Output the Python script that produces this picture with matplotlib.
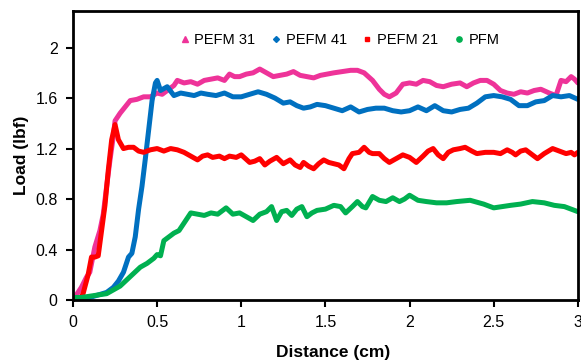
import matplotlib
matplotlib.use('Agg')
import matplotlib.pyplot as plt
from matplotlib.lines import Line2D

plt.rcParams['font.family'] = ['Liberation Sans', 'DejaVu Sans']

# PEFM 31 (pink)
x31 = [0, 0.02, 0.05, 0.08, 0.1, 0.13, 0.16, 0.18, 0.2, 0.22, 0.24, 0.25, 0.28, 0.31, 0.34, 0.38,
       0.42, 0.46, 0.5, 0.53, 0.56, 0.6, 0.62, 0.66, 0.7, 0.74, 0.78, 0.82, 0.86, 0.9, 0.93, 0.96,
       0.99, 1.03, 1.07, 1.11, 1.15, 1.19, 1.23, 1.27, 1.31, 1.35, 1.39, 1.43, 1.47, 1.51, 1.55, 1.6,
       1.65, 1.69, 1.73, 1.78, 1.82, 1.85, 1.88, 1.92, 1.96, 2.0, 2.04, 2.08, 2.12, 2.16, 2.2, 2.25,
       2.3, 2.34, 2.38, 2.42, 2.46, 2.5, 2.54, 2.58, 2.62, 2.66, 2.7, 2.74, 2.78, 2.83, 2.87, 2.9,
       2.93, 2.96, 2.98, 3.0]
y31 = [0, 0.04, 0.1, 0.18, 0.22, 0.42, 0.55, 0.68, 0.9, 1.11, 1.3, 1.42, 1.48, 1.53, 1.58, 1.59,
       1.61, 1.61, 1.64, 1.63, 1.66, 1.70, 1.74, 1.72, 1.73, 1.71, 1.74, 1.75, 1.76, 1.74, 1.79, 1.77,
       1.77, 1.79, 1.80, 1.83, 1.80, 1.77, 1.78, 1.79, 1.81, 1.78, 1.77, 1.76, 1.78, 1.79, 1.80, 1.81,
       1.82, 1.82, 1.80, 1.74, 1.67, 1.63, 1.61, 1.64, 1.71, 1.72, 1.71, 1.74, 1.73, 1.70, 1.69, 1.71,
       1.72, 1.69, 1.72, 1.74, 1.74, 1.71, 1.66, 1.64, 1.63, 1.65, 1.64, 1.66, 1.67, 1.64, 1.62, 1.74,
       1.73, 1.77, 1.75, 1.72]

# PEFM 41 (blue)
x41 = [0, 0.05, 0.1, 0.15, 0.2, 0.24, 0.27, 0.3, 0.33, 0.35, 0.37, 0.39, 0.41, 0.43, 0.45, 0.47,
       0.49, 0.5, 0.52, 0.56, 0.6, 0.64, 0.68, 0.72, 0.76, 0.8, 0.85, 0.9, 0.95, 1.0, 1.05, 1.1,
       1.15, 1.2, 1.25, 1.29, 1.33, 1.37, 1.41, 1.45, 1.5, 1.55, 1.6, 1.65, 1.7, 1.75, 1.8, 1.85,
       1.9, 1.95, 2.0, 2.05, 2.1, 2.15, 2.2, 2.25, 2.3, 2.35, 2.4, 2.45, 2.5, 2.55, 2.6, 2.65,
       2.7, 2.75, 2.8, 2.85, 2.9, 2.95, 3.0]
y41 = [0, 0.01, 0.02, 0.04, 0.06, 0.1, 0.15, 0.22, 0.34, 0.37, 0.5, 0.72, 0.9, 1.12, 1.35, 1.58,
       1.72, 1.74, 1.66, 1.69, 1.62, 1.64, 1.63, 1.62, 1.64, 1.63, 1.62, 1.64, 1.61, 1.61, 1.63, 1.65,
       1.63, 1.60, 1.56, 1.57, 1.54, 1.52, 1.53, 1.55, 1.54, 1.52, 1.50, 1.53, 1.49, 1.51, 1.52, 1.52,
       1.50, 1.49, 1.50, 1.53, 1.50, 1.54, 1.50, 1.49, 1.51, 1.52, 1.56, 1.61, 1.62, 1.61, 1.59, 1.54,
       1.54, 1.57, 1.58, 1.62, 1.61, 1.62, 1.59]

# PEFM 21 (red)
x21 = [0, 0.04, 0.06, 0.09, 0.11, 0.13, 0.15, 0.17, 0.19, 0.21, 0.23, 0.25, 0.27, 0.3, 0.33, 0.36,
       0.39, 0.42, 0.46, 0.5, 0.54, 0.58, 0.62, 0.66, 0.7, 0.74, 0.77, 0.8, 0.83, 0.87, 0.9, 0.93,
       0.97, 1.0, 1.05, 1.08, 1.11, 1.14, 1.17, 1.21, 1.25, 1.29, 1.32, 1.35, 1.37, 1.4, 1.43, 1.46,
       1.49, 1.52, 1.55, 1.58, 1.61, 1.64, 1.66, 1.7, 1.73, 1.76, 1.78, 1.82, 1.85, 1.88, 1.92, 1.96,
       2.0, 2.04, 2.08, 2.11, 2.14, 2.17, 2.2, 2.23, 2.26, 2.3, 2.33, 2.37, 2.4, 2.45, 2.5, 2.54,
       2.58, 2.61, 2.63, 2.66, 2.69, 2.73, 2.76, 2.8, 2.85, 2.89, 2.93, 2.96, 2.98, 3.0]
y21 = [0, 0.0, 0.05, 0.2, 0.34, 0.34, 0.35, 0.55, 0.75, 1.03, 1.27, 1.39, 1.27, 1.2, 1.21, 1.21,
       1.18, 1.17, 1.19, 1.20, 1.18, 1.20, 1.19, 1.17, 1.14, 1.11, 1.14, 1.15, 1.13, 1.14, 1.12, 1.14,
       1.13, 1.15, 1.09, 1.10, 1.12, 1.07, 1.10, 1.13, 1.08, 1.11, 1.07, 1.05, 1.09, 1.06, 1.04, 1.08,
       1.11, 1.09, 1.08, 1.07, 1.04, 1.12, 1.16, 1.17, 1.21, 1.17, 1.16, 1.16, 1.12, 1.09, 1.12, 1.15,
       1.13, 1.09, 1.14, 1.18, 1.20, 1.15, 1.12, 1.17, 1.19, 1.20, 1.21, 1.18, 1.16, 1.17, 1.17, 1.16,
       1.19, 1.17, 1.15, 1.18, 1.19, 1.15, 1.12, 1.16, 1.20, 1.18, 1.16, 1.17, 1.15, 1.17]

# PFM (green)
xpfm = [0, 0.05, 0.1, 0.15, 0.2, 0.24, 0.28, 0.32, 0.36, 0.4, 0.44, 0.48, 0.5, 0.52, 0.54, 0.57,
        0.6, 0.63, 0.66, 0.7, 0.74, 0.78, 0.82, 0.86, 0.91, 0.95, 0.99, 1.03, 1.07, 1.11, 1.15, 1.18,
        1.21, 1.24, 1.27, 1.3, 1.33, 1.36, 1.39, 1.42, 1.45, 1.5, 1.55, 1.59, 1.62, 1.66, 1.69, 1.72,
        1.74, 1.78, 1.82, 1.86, 1.9, 1.94, 1.97, 2.0, 2.05, 2.1, 2.16, 2.22, 2.28, 2.36, 2.44, 2.5,
        2.55, 2.6, 2.66, 2.73, 2.8, 2.86, 2.92, 2.96, 3.0]
ypfm = [0.02, 0.02, 0.03, 0.04, 0.05, 0.08, 0.11, 0.16, 0.21, 0.26, 0.29, 0.33, 0.36, 0.35, 0.47, 0.50,
        0.53, 0.55, 0.61, 0.69, 0.68, 0.67, 0.69, 0.68, 0.73, 0.68, 0.69, 0.66, 0.63, 0.68, 0.70, 0.74,
        0.63, 0.70, 0.71, 0.67, 0.72, 0.74, 0.66, 0.69, 0.71, 0.72, 0.75, 0.74, 0.69, 0.74, 0.78, 0.74,
        0.73, 0.82, 0.79, 0.78, 0.81, 0.78, 0.80, 0.83, 0.79, 0.78, 0.77, 0.77, 0.78, 0.79, 0.76, 0.73,
        0.74, 0.75, 0.76, 0.78, 0.77, 0.75, 0.74, 0.72, 0.70]

labels = ['PEFM 31', 'PEFM 41', 'PEFM 21', 'PFM']
colors = ['#EE3399', '#0070C0', '#FF0000', '#00B050']
markers = ['^', 'D', 's', 'o']
msizes = [3.8, 3.0, 3.2, 3.8]

fig = plt.figure(figsize=(5.81, 3.62), dpi=100)
ax = fig.add_axes([0.1256, 0.1713, 0.869, 0.7983])

series = [(x31, y31), (x41, y41), (x21, y21), (xpfm, ypfm)]
for (xs, ys), c in zip(series, colors):
    ax.plot(xs, ys, color=c, lw=3.6, solid_joinstyle='round', solid_capstyle='round')

ax.set_xlim(0, 3)
ax.set_ylim(0, 2.29)
ax.set_xticks([0, 0.5, 1, 1.5, 2, 2.5, 3])
ax.set_xticklabels(['0', '0.5', '1', '1.5', '2', '2.5', '3'])
ax.set_yticks([0, 0.4, 0.8, 1.2, 1.6, 2])
ax.set_yticklabels(['0', '0.4', '0.8', '1.2', '1.6', '2'])
ax.tick_params(direction='out', length=5, width=1.5, labelsize=11.5, pad=6)
for s in ax.spines.values():
    s.set_linewidth(2)

ax.set_xlabel('Distance (cm)', fontsize=12.5, fontweight='bold', labelpad=11)
ax.xaxis.set_label_coords(0.515, -0.155)
ax.set_ylabel('Load (lbf)', fontsize=12.5, fontweight='bold', labelpad=4.5)

handles = [Line2D([], [], color=c, marker=m, linestyle='none', markersize=ms)
           for c, m, ms in zip(colors, markers, msizes)]
ax.legend(handles, labels, loc='center left', bbox_to_anchor=(0.195, 0.90), ncol=4,
          frameon=False, fontsize=10.5, borderpad=0, handlelength=0.8,
          handletextpad=0.28, columnspacing=1.0)

fig.savefig('out.png', dpi=100)
